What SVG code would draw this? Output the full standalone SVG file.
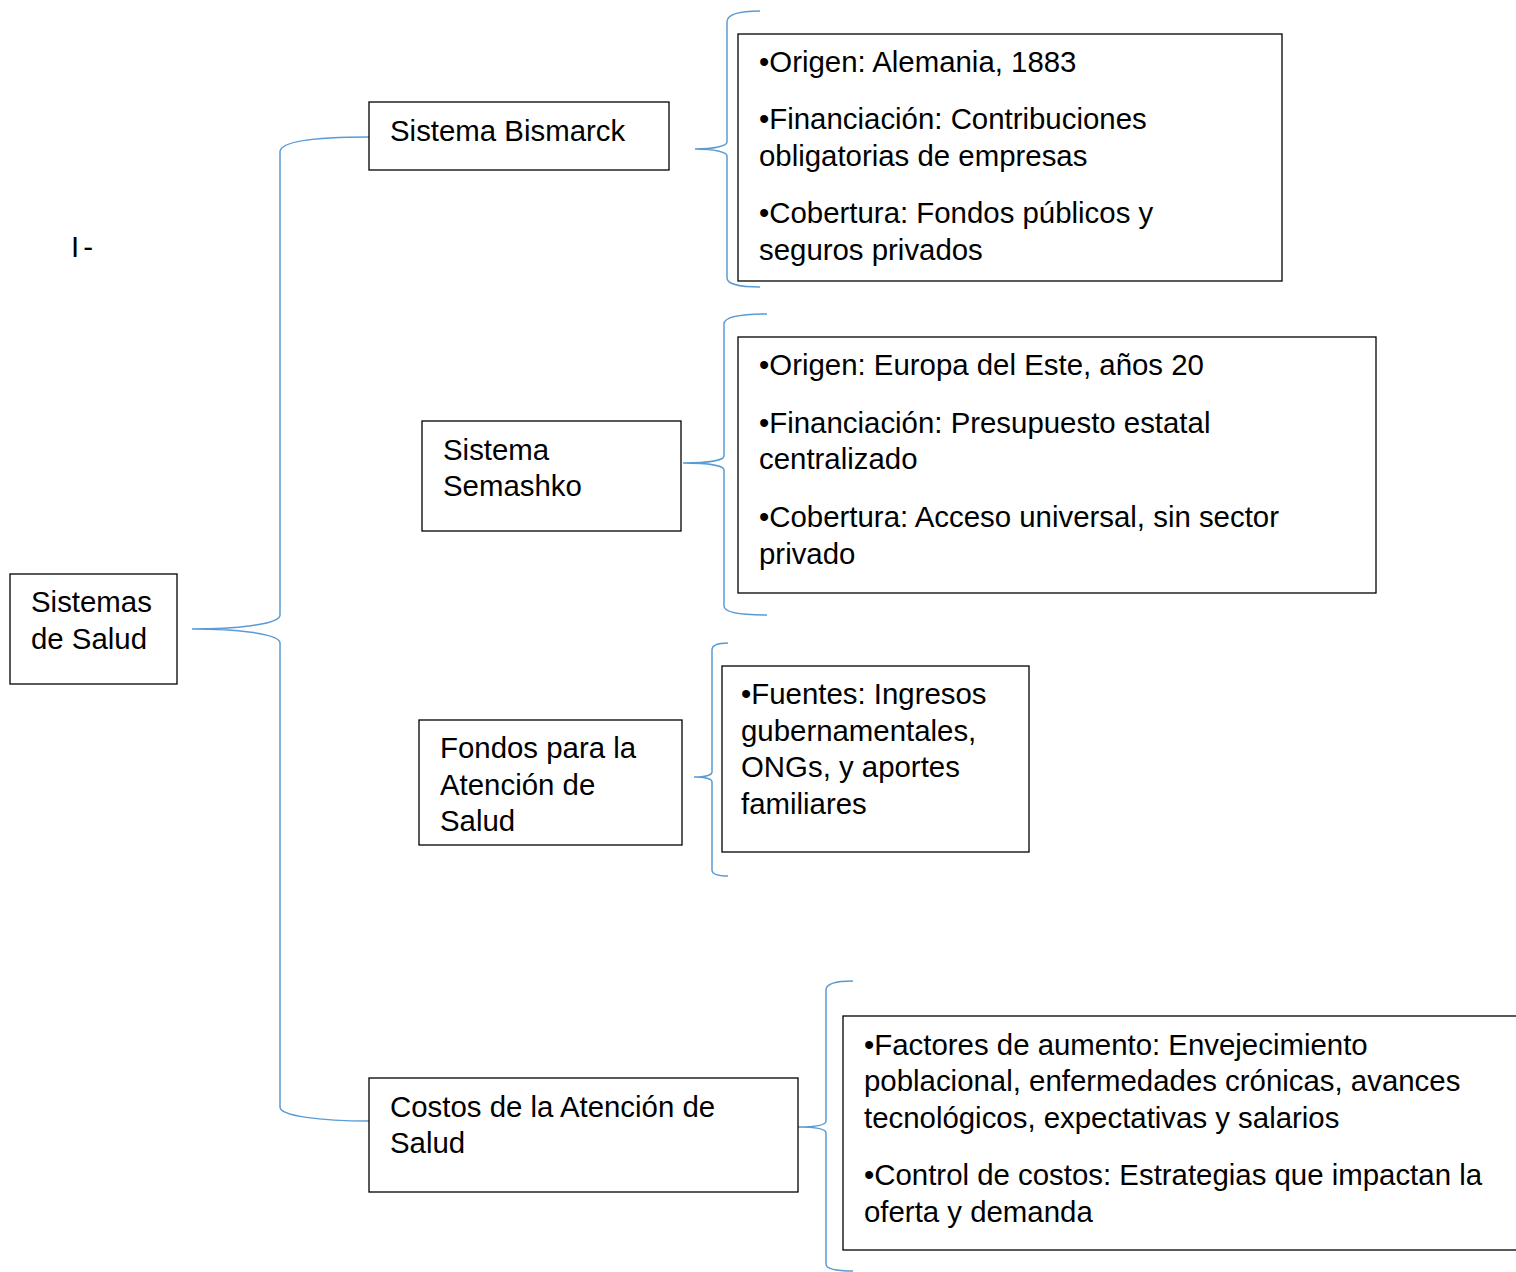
<svg xmlns="http://www.w3.org/2000/svg" width="1516" height="1272" viewBox="0 0 1516 1272">
<style>
.box{fill:#fff;stroke:#000;stroke-width:1.3}
.t{font-family:"Liberation Sans",Arial,sans-serif;font-size:29.4px;fill:#000}
.br{fill:none;stroke:#5B9BD5;stroke-width:1.5}
</style>
<rect width="1516" height="1272" fill="#fff"/>
<text class="t" x="71" y="257">I<tspan dx="4">-</tspan></text>
<g id="connectors">
<path class="br" d="M369,137 C312,137 280,142 280,152 L280,615 C280,625 232,629 192,629 C232,629 280,633 280,643 L280,1107 C280,1116 320,1121 369,1121"/>
<path class="br" d="M760,11 C740,11 727,14 727,22 L727,142 C727,146 714,149 695,149 C714,149 727,152 727,156 L727,278 C727,284 740,287 760,287"/>
<path class="br" d="M767,314 C740,314 724,317 724,324 L724,456 C724,460 710,463 683,463 C710,463 724,466 724,470 L724,606 C724,612 740,615 767,615"/>
<path class="br" d="M728,643 C718,643 712,645 712,650 L712,772 C712,775 705,777 694,777 C705,777 712,779 712,782 L712,870 C712,874 718,876 728,876"/>
<path class="br" d="M853,981 C836,981 826,984 826,990 L826,1121 C826,1125 815,1127 798,1127 C815,1127 826,1129 826,1133 L826,1264 C826,1269 836,1271 853,1271"/>
</g>
<g id="sistemas-salud">
<rect class="box" x="10" y="574" width="167" height="110"/>
<text class="t" x="31" y="612">Sistemas</text>
<text class="t" x="31" y="649">de Salud</text>
</g>
<g id="bismarck">
<rect class="box" x="369" y="102" width="300" height="68"/>
<text class="t" x="390" y="141">Sistema Bismarck</text>
</g>
<g id="bismarck-info">
<rect class="box" x="738" y="34" width="544" height="247"/>
<text class="t" x="759" y="72">•Origen: Alemania, 1883</text>
<text class="t" x="759" y="129">•Financiación: Contribuciones</text>
<text class="t" x="759" y="166">obligatorias de empresas</text>
<text class="t" x="759" y="223">•Cobertura: Fondos públicos y</text>
<text class="t" x="759" y="260">seguros privados</text>
</g>
<g id="semashko">
<rect class="box" x="422" y="421" width="259" height="110"/>
<text class="t" x="443" y="460">Sistema</text>
<text class="t" x="443" y="496">Semashko</text>
</g>
<g id="semashko-info">
<rect class="box" x="738" y="337" width="638" height="256"/>
<text class="t" x="759" y="375">•Origen: Europa del Este, años 20</text>
<text class="t" x="759" y="433">•Financiación: Presupuesto estatal</text>
<text class="t" x="759" y="469">centralizado</text>
<text class="t" x="759" y="527">•Cobertura: Acceso universal, sin sector</text>
<text class="t" x="759" y="564">privado</text>
</g>
<g id="fondos">
<rect class="box" x="419" y="720" width="263" height="125"/>
<text class="t" x="440" y="758">Fondos para la</text>
<text class="t" x="440" y="795">Atención de</text>
<text class="t" x="440" y="831">Salud</text>
</g>
<g id="fondos-info">
<rect class="box" x="722" y="666" width="307" height="186"/>
<text class="t" x="741" y="704">•Fuentes: Ingresos</text>
<text class="t" x="741" y="741">gubernamentales,</text>
<text class="t" x="741" y="777">ONGs, y aportes</text>
<text class="t" x="741" y="814">familiares</text>
</g>
<g id="costos">
<rect class="box" x="369" y="1078" width="429" height="114"/>
<text class="t" x="390" y="1117">Costos de la Atención de</text>
<text class="t" x="390" y="1153">Salud</text>
</g>
<g id="costos-info">
<rect class="box" x="843" y="1016" width="690" height="234"/>
<text class="t" x="864" y="1055">•Factores de aumento: Envejecimiento</text>
<text class="t" x="864" y="1091">poblacional, enfermedades crónicas, avances</text>
<text class="t" x="864" y="1128">tecnológicos, expectativas y salarios</text>
<text class="t" x="864" y="1185">•Control de costos: Estrategias que impactan la</text>
<text class="t" x="864" y="1222">oferta y demanda</text>
</g>
</svg>
